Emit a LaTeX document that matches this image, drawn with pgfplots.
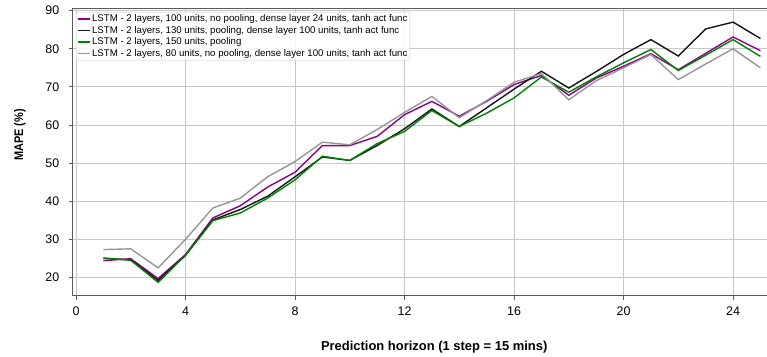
\documentclass[border=0pt]{standalone}
\usepackage{fontspec}
\setmainfont{Liberation Sans}
\usepackage{pgfplots}
\pgfplotsset{compat=1.18}
\definecolor{cpurple}{RGB}{140,0,140}
\definecolor{cgreen}{RGB}{0,128,0}
\definecolor{cblack}{RGB}{20,20,20}
\definecolor{cgray}{RGB}{150,150,150}
\definecolor{gridc}{RGB}{200,200,200}
\definecolor{spinec}{RGB}{90,90,90}
\begin{document}
\begin{tikzpicture}
\useasboundingbox (-72.7bp,-61.3bp) rectangle (694.3bp,295.7bp);
\begin{axis}[
  at={(0,0)}, anchor=south west,
  scale only axis, width=723.3bp, height=287.7bp,
  xmin=-0.12, xmax=26.3, ymin=15.2, ymax=90.7,
  xtick={0,4,...,24}, ytick={20,30,...,90},
  grid=major, major grid style={color=gridc, line width=0.8bp},
  axis line style={color=spinec, line width=0.9bp},
  tick style={color=spinec, line width=0.8bp},
  tick align=outside, major tick length=4bp,
  xtick pos=bottom, ytick pos=left,
  tick label style={font=\fontsize{12.5}{14}\selectfont},
  yticklabel style={xshift=-6bp},
  xticklabel style={yshift=-3.5bp},
  /pgf/number format/assume math mode=true,
  xlabel={\fontsize{13}{15}\selectfont\bfseries Prediction horizon (1 step = 15 mins)},
  ylabel={\scalebox{0.88}[1]{\fontsize{12.5}{14}\selectfont\bfseries MAPE (\%)}},
  every axis x label/.style={at={(axis description cs:0,0)}, xshift=361.5bp, yshift=-51.3bp, anchor=center},
  every axis y label/.style={at={(axis description cs:0,0)}, xshift=-52.7bp, yshift=160.7bp, rotate=90, anchor=center},
  legend style={at={(axis description cs:0,1)}, anchor=north west, xshift=3.3bp, yshift=-4bp,
    draw=gray!40, fill=white, fill opacity=0.85, text opacity=1, rounded corners=2bp,
    font=\fontsize{9.7}{12}\selectfont, inner sep=1bp, row sep=0pt,
    nodes={inner sep=1.5bp}},
  legend cell align=left,
  legend image code/.code={\draw[#1] (4bp,0bp) -- (16bp,0bp);},
  every axis plot/.append style={line width=1.4bp},
]
\addplot[cpurple] coordinates {(1,24.4)(2,24.9)(3,19.7)(4,26.0)(5,35.6)(6,38.8)(7,43.7)(8,47.6)(9,54.6)(10,54.6)(11,57.0)(12,62.7)(13,66.2)(14,62.3)(15,66.2)(16,70.6)(17,73.0)(18,67.8)(19,72.3)(20,75.4)(21,78.7)(22,74.5)(23,78.8)(24,83.1)(25,79.5)};
\addlegendentry{LSTM - 2 layers, 100 units, no pooling, dense layer 24 units, tanh act func}
\addplot[cblack] coordinates {(1,25.0)(2,24.6)(3,19.2)(4,25.8)(5,35.1)(6,37.8)(7,41.3)(8,46.4)(9,51.6)(10,50.7)(11,54.6)(12,59.0)(13,64.2)(14,59.6)(15,64.5)(16,69.4)(17,74.1)(18,69.7)(19,74.0)(20,78.5)(21,82.4)(22,78.1)(23,85.2)(24,87.0)(25,82.7)};
\addlegendentry{LSTM - 2 layers, 130 units, pooling, dense layer 100 units, tanh act func}
\addplot[cgreen] coordinates {(1,25.1)(2,24.5)(3,18.7)(4,25.8)(5,34.9)(6,36.9)(7,40.8)(8,45.6)(9,51.8)(10,50.7)(11,55.1)(12,58.3)(13,63.8)(14,59.6)(15,63.1)(16,67.1)(17,72.6)(18,68.6)(19,72.6)(20,76.3)(21,79.8)(22,74.3)(23,78.3)(24,82.4)(25,78.0)};
\addlegendentry{LSTM - 2 layers, 150 units, pooling}
\addplot[cgray] coordinates {(1,27.3)(2,27.5)(3,22.5)(4,30.0)(5,38.2)(6,40.8)(7,46.4)(8,50.4)(9,55.5)(10,54.8)(11,58.8)(12,63.3)(13,67.5)(14,61.9)(15,66.4)(16,71.2)(17,73.5)(18,66.6)(19,71.6)(20,75.0)(21,78.5)(22,71.9)(23,76.0)(24,80.0)(25,75.0)};
\addlegendentry{LSTM - 2 layers, 80 units, no pooling, dense layer 100 units, tanh act func}
\end{axis}
\end{tikzpicture}
\end{document}
